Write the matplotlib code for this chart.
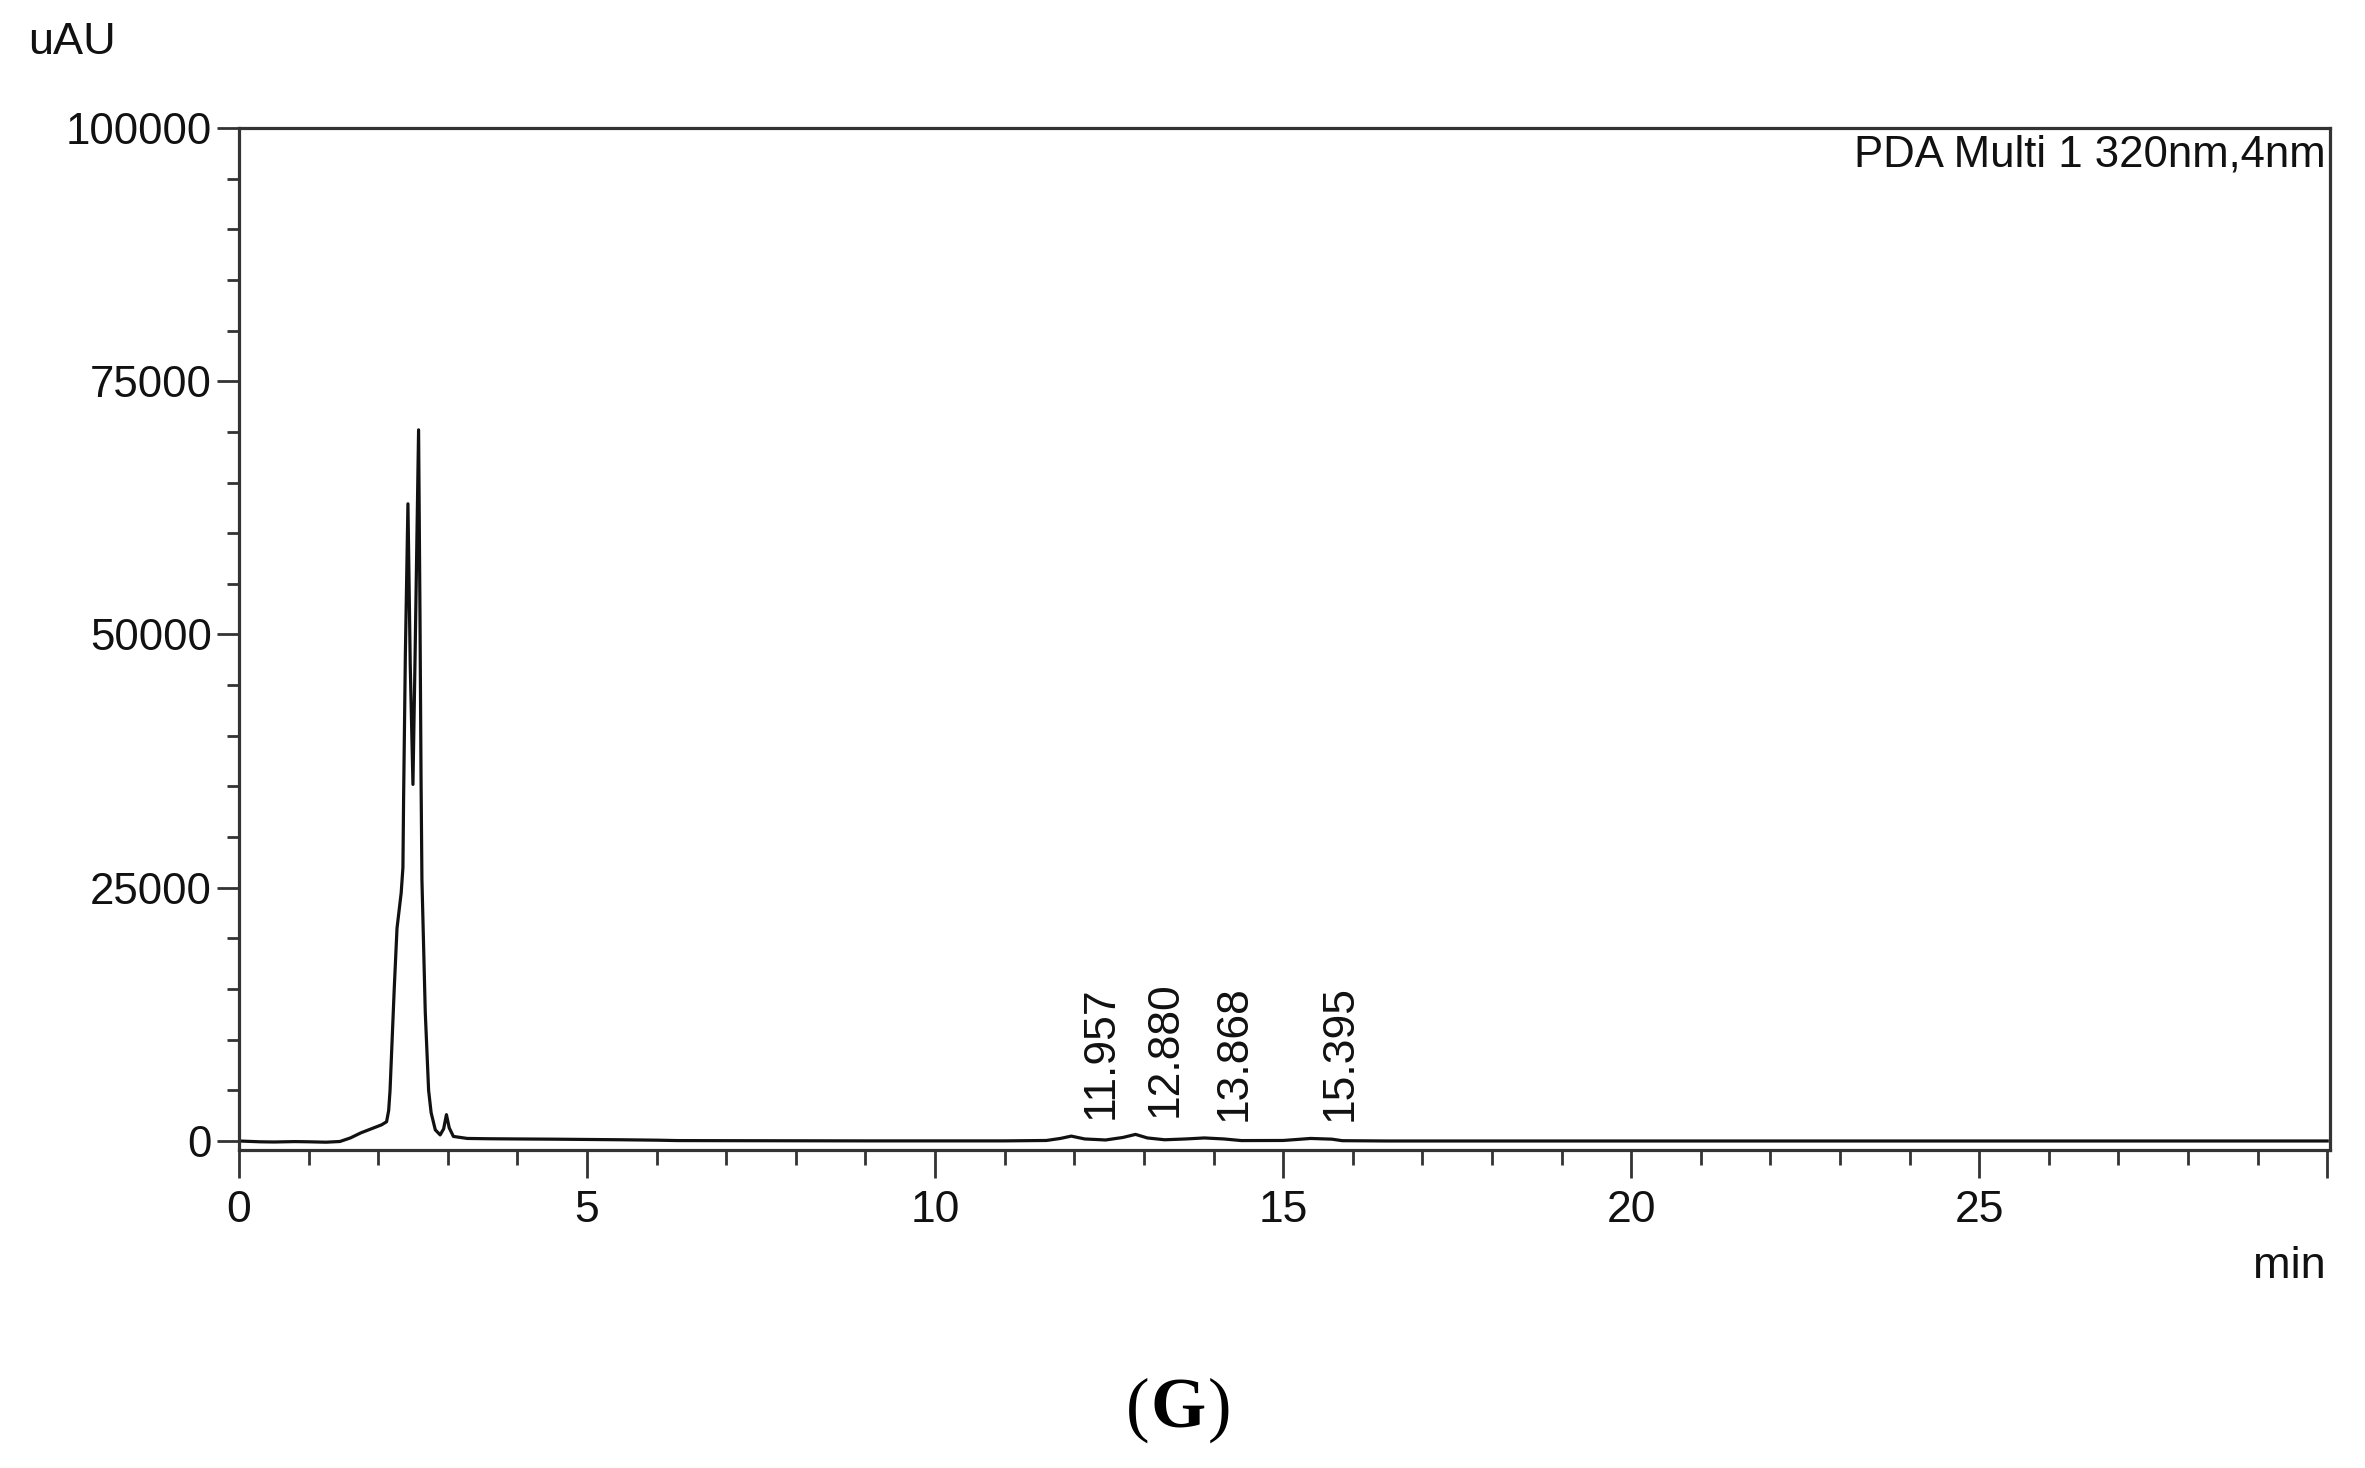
import matplotlib
matplotlib.use("Agg")
import matplotlib.pyplot as plt
from matplotlib.ticker import MultipleLocator, FixedLocator

# ---- data ----
time_min = [0.00, 0.30, 0.50, 0.80, 1.00, 1.25, 1.45, 1.60, 1.75, 1.90, 2.05, 2.12,
            2.15, 2.17, 2.20, 2.23, 2.27, 2.33, 2.355, 2.365, 2.39, 2.427, 2.46, 2.499,
            2.53, 2.58, 2.60, 2.615, 2.628, 2.676, 2.724, 2.76, 2.82, 2.89, 2.94, 2.98,
            3.02, 3.08, 3.28, 3.60, 4.00, 4.50, 5.00, 5.50, 6.00, 6.30, 7.00, 8.00,
            9.00, 10.00, 11.00, 11.60, 11.80, 11.957, 12.15, 12.45, 12.70, 12.88, 13.05,
            13.30, 13.60, 13.868, 14.15, 14.40, 15.00, 15.20, 15.395, 15.70, 15.85,
            16.50, 30.00]
signal_uAU = [0, -80, -100, -60, -80, -120, -50, 300, 800, 1200, 1600, 1900,
              3000, 5000, 10000, 15000, 21000, 24500, 27000, 34000, 48000, 62900, 47000, 35200,
              48000, 70200, 52000, 36000, 25800, 12700, 5000, 2800, 1100, 600, 1200, 2600,
              1300, 450, 250, 220, 200, 180, 150, 120, 80, 40, 30, 20,
              10, 10, 10, 50, 250, 480, 200, 100, 350, 650, 300,
              120, 200, 300, 200, 40, 50, 150, 250, 180, 30,
              0, 0]

peak_times = [11.957, 12.880, 13.868, 15.395]
peak_heights = [480, 650, 300, 250]
peak_labels = ["11.957", "12.880", "13.868", "15.395"]

x_major = [0, 5, 10, 15, 20, 25, 30]
x_major_labels = ["0", "5", "10", "15", "20", "25", ""]
y_major = [0, 25000, 50000, 75000, 100000]
y_major_labels = ["0", "25000", "50000", "75000", "100000"]

# ---- figure ----
W, H = 2365, 1468
fig = plt.figure(figsize=(W / 100, H / 100), dpi=100)
left, right, top, bottom = 239, 2330, 128, 1150
ax = fig.add_axes([left / W, 1 - bottom / H, (right - left) / W, (bottom - top) / H])

font = ["Liberation Sans", "DejaVu Sans"]
spine_col = "#333333"
txt_col = "#111111"

ax.plot(time_min, signal_uAU, color="#111111", lw=2.3, solid_joinstyle="round")

ax.set_xlim(0, 30.04)
ax.set_ylim(-890, 100000)

for s in ax.spines.values():
    s.set_linewidth(2.3)
    s.set_color(spine_col)

ax.xaxis.set_major_locator(FixedLocator(x_major))
ax.set_xticklabels(x_major_labels)
ax.xaxis.set_minor_locator(MultipleLocator(1))
ax.yaxis.set_major_locator(FixedLocator(y_major))
ax.set_yticklabels(y_major_labels)
ax.yaxis.set_minor_locator(MultipleLocator(5000))

ax.tick_params(axis="x", which="major", direction="out", length=20, width=2.0,
               color=spine_col, pad=8.5, labelsize=32)
ax.tick_params(axis="x", which="minor", direction="out", length=11, width=2.0, color=spine_col)
ax.tick_params(axis="y", which="major", direction="out", length=16, width=2.0,
               color=spine_col, pad=3.5, labelsize=31.5)
ax.tick_params(axis="y", which="minor", direction="out", length=8.5, width=2.0, color=spine_col)
for lab in ax.get_xticklabels() + ax.get_yticklabels():
    lab.set_family(font)
    lab.set_color(txt_col)

# peak labels
for t, h, lab in zip(peak_times, peak_heights, peak_labels):
    ax.text(t + 0.43, h + 1700, lab, rotation=90, ha="center", va="bottom",
            fontsize=32, family=font, color=txt_col)

# channel label
ax.text(1.0 - 4 / (right - left), 1.0 - 6 / (bottom - top), "PDA Multi 1 320nm,4nm",
        transform=ax.transAxes, ha="right", va="top", fontsize=31.5,
        family=font, color=txt_col)

# axis unit labels
fig.text(72 / W, 1 - 43 / H, "uAU", ha="center", va="center", fontsize=32.5,
         family=font, color=txt_col)
fig.text(2326 / W, 1 - 1267 / H, "min", ha="right", va="center", fontsize=32.5,
         family=font, color=txt_col)

# caption
base_y = 1 - 1428 / H
serif = ["Liberation Serif", "DejaVu Serif"]
fig.text(1138 / W, base_y, "(", ha="center", va="baseline", fontsize=51,
         family=serif, color="black")
fig.text(1178 / W, base_y, "G", ha="center", va="baseline", fontsize=51, weight="bold",
         family=serif, color="black")
fig.text(1220 / W, base_y, ")", ha="center", va="baseline", fontsize=51,
         family=serif, color="black")

fig.savefig("out.png", dpi=100, facecolor="white")
